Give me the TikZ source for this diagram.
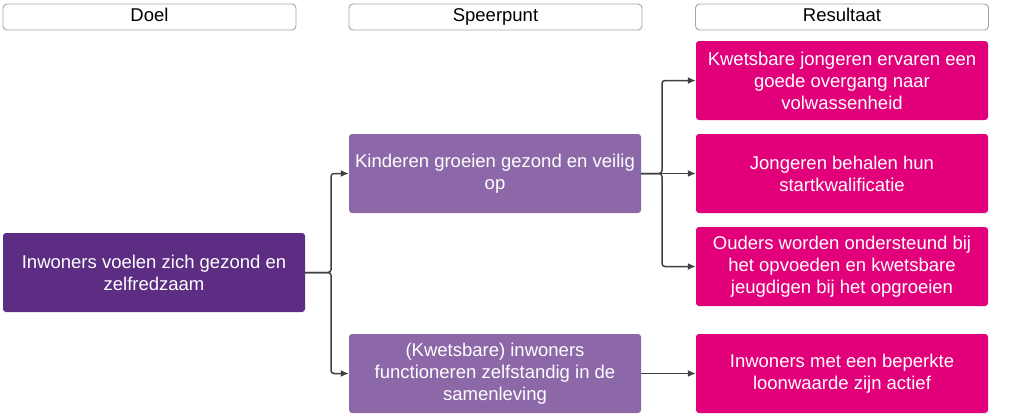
\documentclass[tikz,border=0pt]{standalone}
\usepackage{fontspec}
\setmainfont{Liberation Sans}
\usetikzlibrary{arrows.meta}
\definecolor{doelpurple}{HTML}{5C2D82}
\definecolor{speerpurple}{HTML}{8C68A8}
\definecolor{resmagenta}{HTML}{E2007A}
\definecolor{linegray}{HTML}{404040}
\definecolor{framegray}{HTML}{A6A6A6}
\begin{document}
\begin{tikzpicture}[x=1pt, y=-1pt,
    header/.style={draw=framegray, line width=0.9pt, fill=white, rounded corners=4pt,
      minimum width=293pt, minimum height=26pt, inner sep=0pt,
      text height=13pt, text depth=4pt,
      font=\fontsize{18.5}{22}\selectfont},
    box/.style={rounded corners=3pt, text=white, align=center,
      minimum width=292pt, minimum height=79pt, inner sep=0pt,
      font=\fontsize{18.5}{22}\selectfont},
    conn/.style={draw=linegray, line width=1.5pt, rounded corners=3pt,
      -{Latex[length=8pt,width=7pt]}}]
    \useasboundingbox (0, 0) rectangle (1023, 416);
    % headers
    \node [header] (hdoel) at (149.5, 17) {Doel};
    \node [header] (hspeer) at (495.5, 17) {Speerpunt};
    \node [header] (hres) at (842, 17) {Resultaat};
    % doel
    \node [box, fill=doelpurple, minimum width=302pt] (doel) at (154, 272.5)
      {Inwoners voelen zich gezond en\\zelfredzaam};
    % speerpunten
    \node [box, fill=speerpurple] (kind) at (495, 173.5)
      {Kinderen groeien gezond en veilig\\op};
    \node [box, fill=speerpurple] (inw) at (495, 373.5)
      {(Kwetsbare) inwoners\\functioneren zelfstandig in de\\samenleving};
    % resultaten
    \node [box, fill=resmagenta] (res1) at (842, 80.5)
      {Kwetsbare jongeren ervaren een\\goede overgang naar\\volwassenheid};
    \node [box, fill=resmagenta] (res2) at (842, 173.5)
      {Jongeren behalen hun\\startkwalificatie};
    \node [box, fill=resmagenta] (res3) at (842, 266.5)
      {Ouders worden ondersteund bij\\het opvoeden en kwetsbare\\jeugdigen bij het opgroeien};
    \node [box, fill=resmagenta] (res4) at (842, 373.5)
      {Inwoners met een beperkte\\loonwaarde zijn actief};
    % connectors
    \coordinate (fork1) at (331, 272.5);
    \coordinate (fork2) at (662, 173.5);
    \draw [conn] (doel.east) -- (fork1) |- (kind.west);
    \draw [conn] (doel.east) -- (fork1) |- (inw.west);
    \draw [conn] (kind.east) -- (fork2) |- (res1.west);
    \draw [conn] (kind.east) -- (res2.west);
    \draw [conn] (kind.east) -- (fork2) |- (res3.west);
    \draw [conn] (inw.east) -- (res4.west);
  \end{tikzpicture}
\end{document}
